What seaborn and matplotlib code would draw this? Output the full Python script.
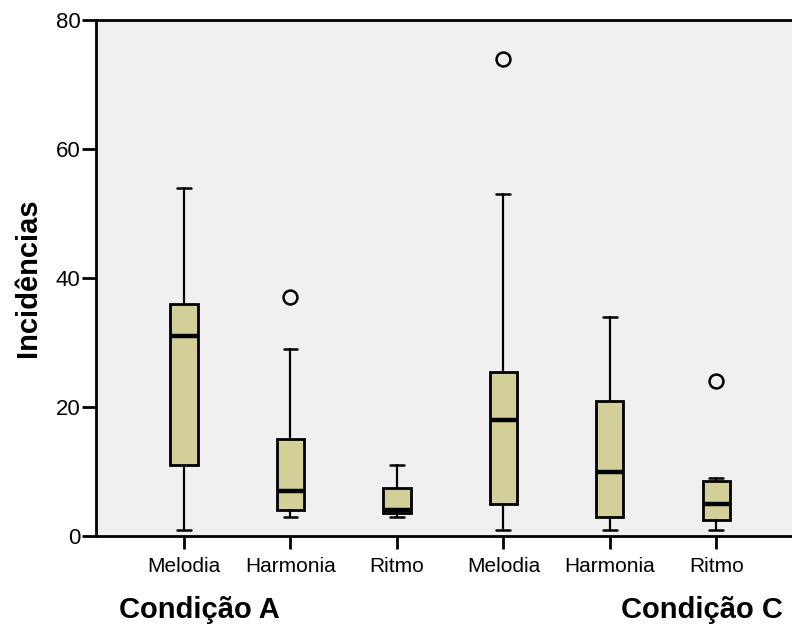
import matplotlib
matplotlib.use("Agg")
import matplotlib.pyplot as plt
import seaborn as sns

# Data (five-number summaries)
categories = ["Melodia", "Harmonia", "Ritmo", "Melodia", "Harmonia", "Ritmo"]
conditions = ["Condição A", "Condição C"]
whisker_low = [1, 3, 3, 1, 1, 1]
q1 = [11, 4, 3.5, 5, 3, 2.5]
median = [31, 7, 4, 18, 10, 5]
q3 = [36, 15, 7.5, 25.5, 21, 8.5]
whisker_high = [54, 29, 11, 53, 34, 9]
outliers = [[], [37], [], [74], [], [24]]

sns.set_style("white")
plt.rcParams['font.family'] = ['Liberation Sans', 'DejaVu Sans']
plt.rcParams['text.color'] = 'black'
plt.rcParams['axes.labelcolor'] = 'black'
plt.rcParams['xtick.color'] = 'black'
plt.rcParams['ytick.color'] = 'black'

fig = plt.figure(figsize=(7.92, 6.25), dpi=100)
ax = fig.add_axes([96/792, 1-536/625, 1-96/792, (536-20)/625])
ax.set_facecolor("#F0F0F0")

stats = []
for i in range(len(categories)):
    stats.append(dict(med=median[i], q1=q1[i], q3=q3[i],
                      whislo=whisker_low[i], whishi=whisker_high[i],
                      fliers=outliers[i], label=categories[i]))

positions = list(range(len(categories)))
ax.bxp(stats, positions=positions, widths=0.255, patch_artist=True,
       boxprops=dict(facecolor="#D3CF99", edgecolor="black", linewidth=2),
       medianprops=dict(color="black", linewidth=3.2),
       whiskerprops=dict(color="black", linewidth=1.6),
       capprops=dict(color="black", linewidth=1.8),
       capwidths=0.13,
       flierprops=dict(marker="o", markerfacecolor="none", markeredgecolor="black",
                       markersize=10, markeredgewidth=1.8))

ax.set_xlim(-0.826, 5.71)
ax.set_ylim(0, 80)
ax.set_yticks([0, 20, 40, 60, 80])
ax.set_xticks(positions)
ax.set_xticklabels(categories, fontsize=15)
ax.tick_params(axis="y", left=True, labelsize=16, length=10, width=2,
               direction="out", pad=1, colors="black")
ax.tick_params(axis="x", bottom=True, length=9, width=2, direction="out",
               pad=6, colors="black")
for s in ["left", "bottom", "top"]:
    ax.spines[s].set_linewidth(2)
    ax.spines[s].set_color("black")
ax.spines["right"].set_visible(False)

ax.set_ylabel("Incidências", fontsize=21, fontweight="bold", labelpad=10,
              color="black")
fig.text(199/792, 1-610/625, conditions[0], fontsize=21, fontweight="bold",
         ha="center", va="center", color="black")
fig.text(702/792, 1-610/625, conditions[1], fontsize=21, fontweight="bold",
         ha="center", va="center", color="black")

fig.savefig("out.png", dpi=100)
